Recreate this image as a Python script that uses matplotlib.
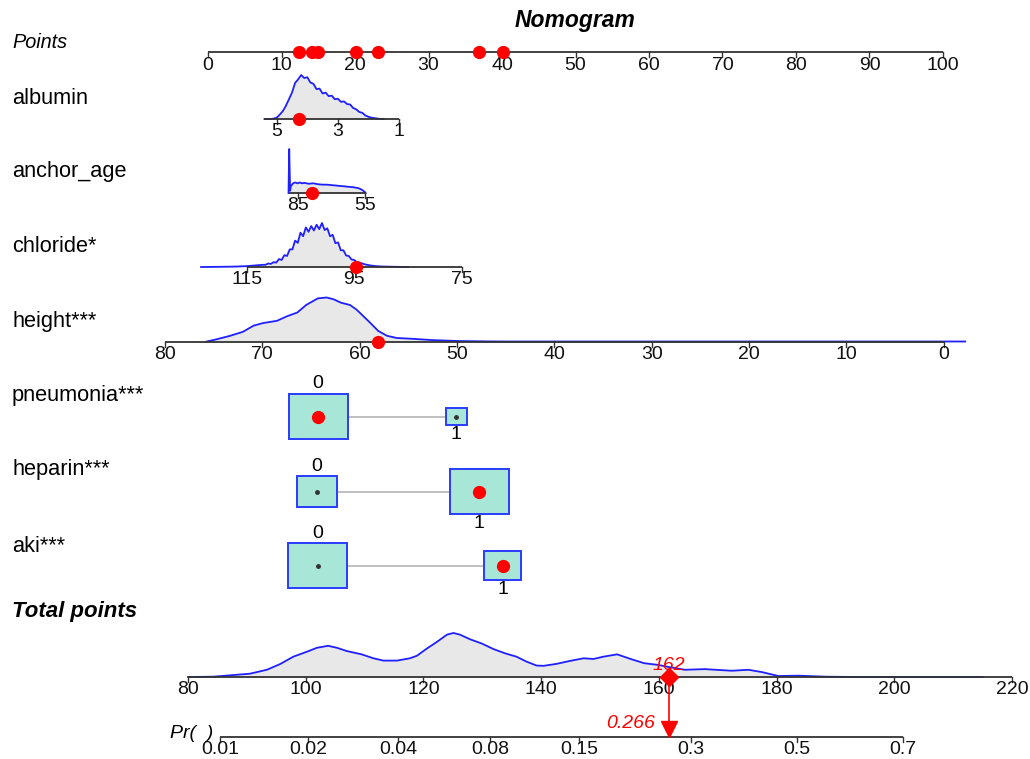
import numpy as np
import matplotlib.pyplot as plt
from matplotlib.patches import Rectangle

plt.rcParams['font.family'] = ['Liberation Sans', 'DejaVu Sans']

# ---------------- values ----------------
points_ticks = [0, 10, 20, 30, 40, 50, 60, 70, 80, 90, 100]

# continuous predictors: value -> points is (v0, points at v0, points per unit)
albumin_map = (5.0, 9.35, -4.16)
albumin_ticks = [5, 3, 1]
albumin_range = [5.4, 1.0]
albumin_grid = [5.4, 5.3, 5.2, 5.1, 5.0, 4.9, 4.8, 4.7, 4.6, 4.5, 4.4, 4.3, 4.2, 4.1,
                4.0, 3.9, 3.8, 3.7, 3.6, 3.5, 3.4, 3.3, 3.2, 3.1, 3.0, 2.9, 2.8, 2.7,
                2.6, 2.5, 2.4, 2.3, 2.2, 2.1, 2.0, 1.9, 1.8, 1.7, 1.6, 1.5]
albumin_dens = [0.0, 0.0, 0.0, 0.01, 0.03, 0.10, 0.18, 0.30, 0.45, 0.60, 0.82, 0.90, 1.00, 0.93,
                0.95, 0.83, 0.80, 0.68, 0.69, 0.58, 0.60, 0.52, 0.53, 0.45, 0.46, 0.39, 0.40, 0.34,
                0.33, 0.25, 0.22, 0.16, 0.14, 0.08, 0.05, 0.03, 0.02, 0.01, 0.0, 0.0]
albumin_value = 4.27

age_map = (85.0, 12.18, -0.306)
age_ticks = [85, 55]
age_range = [89.0, 55.0]
age_grid = [89.0, 88.7, 88.3, 88.0, 87.0, 86.0, 85.0, 84.0, 83.0, 82.0, 80.0, 78.0, 76.0,
            74.0, 72.0, 70.0, 68.0, 66.0, 64.0, 62.0, 60.0, 58.0, 57.0, 56.0, 55.0, 54.7]
age_dens = [0.0, 1.0, 0.05, 0.15, 0.22, 0.24, 0.22, 0.24, 0.22, 0.23, 0.21, 0.22, 0.20,
            0.19, 0.19, 0.18, 0.17, 0.16, 0.15, 0.14, 0.13, 0.11, 0.09, 0.06, 0.02, 0.0]
age_value = 78.6

chloride_map = (115.0, 5.27, -0.731)
chloride_ticks = [115, 95, 75]
chloride_range = [115.0, 75.0]
chloride_grid = [123.5, 120, 117, 115, 114, 113, 112, 111.5, 111, 110.5, 110, 109.5, 109,
                 108.5, 108, 107.5, 107, 106.5, 106, 105.5, 105, 104.5, 104, 103.5, 103,
                 102.5, 102, 101.5, 101, 100.5, 100, 99.5, 99, 98.5, 98, 97.5, 97, 96.5,
                 96, 95.5, 95, 94.5, 94, 93, 92, 91, 90, 88, 85]
chloride_dens = [0.0, 0.004, 0.01, 0.02, 0.03, 0.04, 0.05, 0.05, 0.08, 0.07, 0.11, 0.10, 0.18,
                 0.16, 0.27, 0.25, 0.40, 0.40, 0.60, 0.55, 0.78, 0.70, 0.90, 0.80, 0.93,
                 0.83, 0.96, 0.86, 1.00, 0.84, 0.88, 0.70, 0.73, 0.54, 0.56, 0.38, 0.38, 0.26,
                 0.25, 0.17, 0.16, 0.11, 0.10, 0.06, 0.035, 0.02, 0.012, 0.006, 0.0]
chloride_value = 94.7

height_map = (80.0, -5.85, -1.3245)
height_ticks = [80, 70, 60, 50, 40, 30, 20, 10, 0]
height_range = [80.0, 0.0]
height_grid = [75.7, 74.7, 73.3, 72.0, 70.9, 69.9, 68.5, 67.5, 66.4, 65.5, 64.3, 63.4, 62.7,
               61.9, 61.0, 60.3, 59.6, 58.9, 58.1, 57.2, 56.2, 54.5, 52.4, 49.7, 47.0, 45.0,
               0.0, -2.2]
height_dens = [0.0, 0.05, 0.13, 0.22, 0.36, 0.42, 0.47, 0.57, 0.66, 0.83, 0.98, 1.0, 0.96,
               0.88, 0.83, 0.72, 0.57, 0.42, 0.24, 0.13, 0.08, 0.06, 0.03, 0.01, 0.003, 0.0,
               0.0, 0.0]
height_value = 58.1

# binary predictors: level frequencies and points per level
pneumonia_freq = [0.887, 0.113]
pneumonia_points = [14.97, 33.8]
pneumonia_value = 0
heparin_freq = [0.315, 0.685]
heparin_points = [14.85, 36.9]
heparin_value = 1
aki_freq = [0.718, 0.282]
aki_points = [14.9, 40.1]
aki_value = 1

# total points scale and probability
total_map = (80.0, -2.72, 0.8008)
total_ticks = [80, 100, 120, 140, 160, 180, 200, 220]
total_grid = [80, 84.3, 87.1, 90.5, 93.4, 95.6, 97.9, 100.2, 101.9, 103.8, 105.3, 107, 109.5,
              111.5, 113.2, 115.5, 117.7, 118.9, 120.6, 122.3, 124, 125.1, 126.2, 127.9, 129.9,
              131.9, 133.9, 135.8, 137.5, 139.2, 140.4, 142.6, 144.9, 147.2, 148.9, 150.6,
              152.9, 155.2, 157.5, 159.8, 162.1, 164.4, 167.8, 172.4, 175.2, 177.5, 180.3,
              183.7, 188.3, 193.6, 215]
total_dens = [0.0, 0.007, 0.037, 0.074, 0.163, 0.289, 0.459, 0.57, 0.659, 0.704, 0.659, 0.585,
              0.511, 0.422, 0.37, 0.37, 0.422, 0.48, 0.644, 0.793, 0.956, 0.993, 0.956, 0.852,
              0.756, 0.63, 0.533, 0.459, 0.348, 0.259, 0.252, 0.296, 0.363, 0.422, 0.407, 0.459,
              0.511, 0.407, 0.311, 0.274, 0.215, 0.163, 0.178, 0.141, 0.163, 0.111, 0.022,
              0.03, 0.007, 0.0, 0.0]
pr_ticks = [0.01, 0.02, 0.04, 0.08, 0.15, 0.3, 0.5, 0.7]
logit_slope = 0.0469
logit_center = 183.45   # total points where Pr = 0.5

# ---------------- layout / style ----------------
PX0, PX_PER_PT = 208.0, 7.35
AX_COL = '#333333'
BLUE = '#1f1fff'
RED = '#ff0000'
DENS_H = 44
TICK = 5
BOX_W, BOX_H = 59 / PX_PER_PT, 45
FS_TICK = 14
FS_LAB = 15.7


def xpx(p):
    return (p - PX0) / PX_PER_PT


def lin(v, m):
    return m[1] + m[2] * (np.asarray(v, dtype=float) - m[0])


def pr_to_total(p):
    p = np.asarray(p, dtype=float)
    return logit_center + np.log(p / (1 - p)) / logit_slope


def axis_line(ax, ends, tick_x, labels, y):
    ax.plot(ends, [y, y], color=AX_COL, lw=1.3, solid_capstyle='butt', zorder=3)
    for tx, lab in zip(tick_x, labels):
        ax.plot([tx, tx], [y, y + TICK], color=AX_COL, lw=1.0, zorder=3)
        ax.text(tx, y + 13, lab, ha='center', va='center', fontsize=FS_TICK, color='#111111')


def density(ax, x, dens, y):
    h = np.asarray(dens) / max(dens) * DENS_H
    ax.fill_between(x, y, y - h, color='#e8e8e8', lw=0, zorder=1)
    ax.plot(x, y - h, color=BLUE, lw=1.3, zorder=2)


def dot(ax, x, y):
    ax.plot(x, y, 'o', color=RED, ms=8.5, mec=RED, zorder=5)


fig = plt.figure(figsize=(10.30, 7.59), dpi=100)
ax = fig.add_axes([0, 0, 1, 1])
ax.set_xlim(xpx(0), xpx(1030))
ax.set_ylim(759, 0)
ax.axis('off')

# title and points row
ax.text(xpx(575), 21, 'Nomogram', ha='center', va='center', fontsize=16.5,
        fontweight='bold', fontstyle='italic')
ax.text(xpx(12), 42, 'Points', ha='left', va='center', fontsize=14.3, fontstyle='italic')
axis_line(ax, [0, 100], points_ticks, [str(t) for t in points_ticks], 52)

rows = [
    ('albumin', 99, 119, albumin_map, albumin_ticks, albumin_range, albumin_grid, albumin_dens, albumin_value),
    ('anchor_age', 172, 193, age_map, age_ticks, age_range, age_grid, age_dens, age_value),
    ('chloride*', 246, 267, chloride_map, chloride_ticks, chloride_range, chloride_grid, chloride_dens, chloride_value),
    ('height***', 322, 341.5, height_map, height_ticks, height_range, height_grid, height_dens, height_value),
]
chosen_points = []
for name, ylab, ybase, m, ticks, rng, grid, dens, val in rows:
    ax.text(xpx(12), ylab, name, ha='left', va='center', fontsize=FS_LAB)
    density(ax, lin(grid, m), dens, ybase)
    axis_line(ax, lin(rng, m), lin(ticks, m), [str(t) for t in ticks], ybase)
    pts = float(lin(val, m))
    chosen_points.append(pts)
    dot(ax, pts, ybase)

cats = [
    ('pneumonia***', 396, 416.5, pneumonia_freq, pneumonia_points, pneumonia_value),
    ('heparin***', 470, 491.5, heparin_freq, heparin_points, heparin_value),
    ('aki***', 546, 565.5, aki_freq, aki_points, aki_value),
]
for name, ylab, yc, freq, pts, val in cats:
    ax.text(xpx(12), ylab, name, ha='left', va='center', fontsize=FS_LAB)
    scale = np.sqrt(np.asarray(freq) / max(freq))
    ax.plot([pts[0] + BOX_W * scale[0] / 2, pts[1] - BOX_W * scale[1] / 2], [yc, yc],
            color='#bbbbbb', lw=1.3, zorder=1)
    for lvl in range(2):
        w, h = BOX_W * scale[lvl], BOX_H * scale[lvl]
        ax.add_patch(Rectangle((pts[lvl] - w / 2, yc - h / 2), w, h, facecolor='#a8e6d8',
                               edgecolor='#2a3cff', lw=1.4, zorder=2))
        if lvl == 0:
            ax.text(pts[lvl], yc - h / 2 - 10, '0', ha='center', va='center', fontsize=FS_TICK)
        else:
            ax.text(pts[lvl], yc + h / 2 + 10, '1', ha='center', va='center', fontsize=FS_TICK)
        if lvl == val:
            dot(ax, pts[lvl], yc)
        else:
            ax.plot(pts[lvl], yc, 'o', color='#333333', ms=2.5, zorder=4)
    chosen_points.append(pts[val])

for p in chosen_points:
    dot(ax, p, 52)

# total points
total = sum(chosen_points)
ax.text(xpx(12), 612, 'Total points', ha='left', va='center', fontsize=16,
        fontweight='bold', fontstyle='italic')
y_tot = 677
density(ax, lin(total_grid, total_map), total_dens, y_tot)
axis_line(ax, lin([total_ticks[0], total_ticks[-1]], total_map), lin(total_ticks, total_map),
          [str(t) for t in total_ticks], y_tot)

# probability axis
y_pr = 737
ax.text(xpx(170), 733, 'Pr(  )', ha='left', va='center', fontsize=14, fontstyle='italic')
pr_x = lin(pr_to_total(pr_ticks), total_map)
axis_line(ax, [pr_x[0], pr_x[-1]], pr_x, ['{:g}'.format(p) for p in pr_ticks], y_pr)

# prediction marker
prob = 1 / (1 + np.exp(-logit_slope * (total - logit_center)))
tx = float(lin(total, total_map))
ax.plot([tx, tx], [y_tot, y_pr - 8], color=RED, lw=1.2, zorder=5)
ax.plot(tx, y_tot, 'D', color=RED, ms=9, zorder=6)
ax.plot(tx, y_pr - 8.5, 'v', color=RED, ms=12, zorder=6)
ax.text(tx, 666, '{:.0f}'.format(total), ha='center', va='center', fontsize=14,
        fontstyle='italic', color=RED, zorder=7)
ax.text(tx - 14 / PX_PER_PT, 724, '{:.3f}'.format(prob), ha='right', va='center', fontsize=14,
        fontstyle='italic', color=RED, zorder=7)

fig.savefig('out.png', dpi=100)
